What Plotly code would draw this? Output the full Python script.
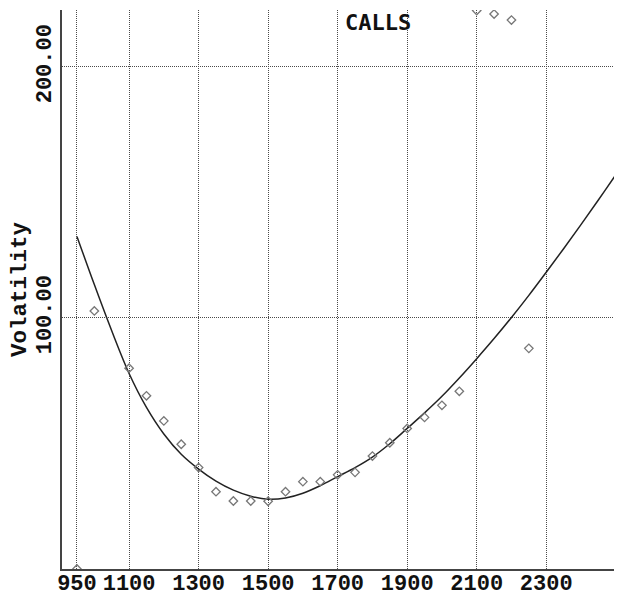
import plotly.graph_objects as go

# Observed option data (diamonds)
strike = [950, 1000, 1100, 1150, 1200, 1250, 1300, 1350, 1400, 1450, 1500, 1550,
          1600, 1650, 1700, 1750, 1800, 1850, 1900, 1950, 2000, 2050, 2100, 2150,
          2200, 2250]
vol = [0, 102.8, 80, 69, 59, 49.7, 40.4, 30.8, 27.1, 27.1, 27, 30.8,
       34.8, 34.8, 37.5, 38.5, 45, 50.3, 56, 60.4, 65.2, 70.8, 222.5, 221.1,
       218.7, 87.9]

# Fitted smile curve
fit_x = [950, 1000, 1050, 1100, 1150, 1200, 1250, 1300, 1350, 1400, 1450, 1500,
         1550, 1600, 1650, 1700, 1750, 1800, 1850, 1900, 1950, 2000, 2050, 2100,
         2150, 2200, 2250, 2300, 2350, 2400, 2450, 2500, 2505]
fit_y = [132.5, 113.3, 94.9, 77.9, 64.4, 53.8, 45.7, 39.8, 35.0, 31.4, 29.0, 27.8,
         28.3, 30.2, 33.2, 36.8, 40.4, 44.6, 49.9, 56.0, 62.2, 68.8, 76.1, 83.8,
         91.8, 100.2, 109.0, 118.2, 127.6, 137.2, 147.0, 157.0, 158.0]

x_ticks = [950, 1100, 1300, 1500, 1700, 1900, 2100, 2300]
y_ticks = [100, 200]
y_ticklabels = ["100.00", "200.00"]

FONT = "Liberation Mono"
TXT = "#111111"
GRID = "#4a4a4a"

fig = go.Figure()
fig.add_trace(go.Scatter(
    x=fit_x, y=fit_y, mode="lines",
    line=dict(color="#222222", width=1.5, shape="spline", smoothing=1.0),
    hoverinfo="skip", showlegend=False))
fig.add_trace(go.Scatter(
    x=strike, y=vol, mode="markers",
    marker=dict(symbol="diamond-open", size=6.5, color="#777777",
                line=dict(width=1.3, color="#777777")),
    showlegend=False))

fig.update_layout(
    width=614, height=591,
    margin=dict(l=54, r=0, t=2, b=30, autoexpand=False),
    paper_bgcolor="white", plot_bgcolor="white",
    xaxis=dict(
        range=[907, 2518], tickmode="array", tickvals=x_ticks,
        ticktext=[str(v) for v in x_ticks],
        tickfont=dict(family=FONT, size=22, color=TXT, weight="bold"),
        ticklabelstandoff=-7,
        showgrid=True, gridcolor=GRID, gridwidth=1, griddash="1px,1px",
        showline=True, linecolor="#444444", linewidth=2,
        zeroline=False, ticks="", automargin=False),
    yaxis=dict(
        range=[0, 222.7], tickmode="array", tickvals=y_ticks,
        ticktext=y_ticklabels, tickangle=-90,
        tickfont=dict(family=FONT, size=22, color=TXT, weight="bold"),
        showgrid=True, gridcolor=GRID, gridwidth=1, griddash="1px,1px",
        showline=True, linecolor="#444444", linewidth=2,
        zeroline=False, ticks="", automargin=False),
    annotations=[
        dict(text="Volatility", xref="paper", yref="paper",
             x=-0.075, y=0.501, xanchor="center", yanchor="middle",
             textangle=-90, showarrow=False,
             font=dict(family=FONT, size=22.5, color=TXT, weight="bold")),
        dict(text="CALLS", xref="paper", yref="paper",
             x=0.564, y=0.9785, xanchor="center", yanchor="middle",
             showarrow=False,
             font=dict(family="DejaVu Sans Mono", size=22, color=TXT, weight="bold")),
    ],
)

fig.write_html("out.html")
